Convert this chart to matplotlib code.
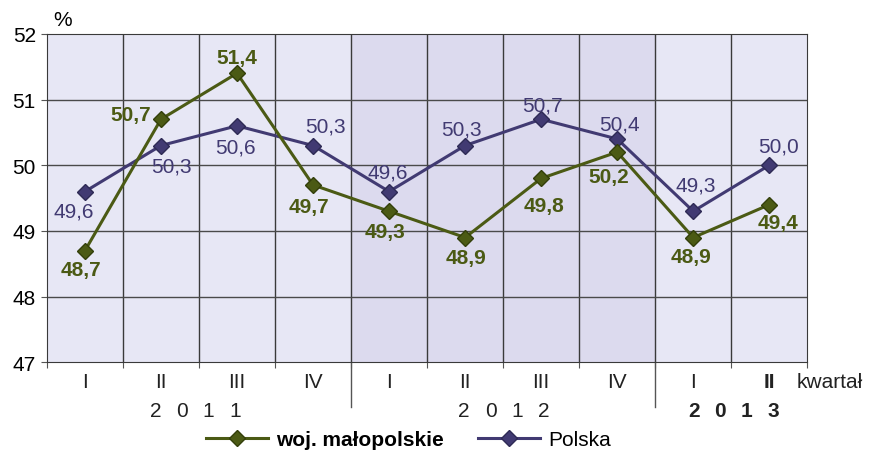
import numpy as np
import matplotlib.pyplot as plt
import matplotlib.transforms as mtransforms

plt.rcParams['font.family'] = ['Liberation Sans', 'DejaVu Sans']

# data
quarters = ["I", "II", "III", "IV", "I", "II", "III", "IV", "I", "II"]
years = ["2011", "2012", "2013"]
malopolskie = [48.7, 50.7, 51.4, 49.7, 49.3, 48.9, 49.8, 50.2, 48.9, 49.4]
polska = [49.6, 50.3, 50.6, 50.3, 49.6, 50.3, 50.7, 50.4, 49.3, 50.0]

# label offsets in pixels (dx right, dy down)
mal_off = [(-4, 19), (-30, -5), (0, -16), (-4, 22), (-4, 20), (1, 20), (3, 27), (-8, 24), (-2, 19), (9, 18)]
pol_off = [(-11, 19), (10, 20), (-2, 21), (12, -20), (-1, -20), (-4, -17), (1, -14), (2, -15), (3, -26), (9, -19)]

green = "#4b5a14"
purple = "#413a72"
fs = 15

fig = plt.figure(figsize=(8.69, 4.52), dpi=100)
ax = fig.add_axes([0.054, 0.196, 0.875, 0.727])
x = np.arange(len(quarters))

ax.axvspan(-0.5, 9.5, color="#e7e7f5", zorder=0)
ax.axvspan(3.5, 7.5, color="#dcdaee", zorder=0)

for xv in np.arange(0.5, 9.5, 1):
    ax.axvline(xv, color="#3a3a3a", lw=1, zorder=1)
for yv in [48, 49, 50, 51]:
    ax.axhline(yv, color="#4a4a4a", lw=1, zorder=1)

ax.plot(x, polska, color=purple, lw=2.2, marker="D", ms=8.5, mfc=purple, mec="#2e2a55", zorder=3, label="Polska")
ax.plot(x, malopolskie, color=green, lw=2.2, marker="D", ms=8.5, mfc=green, mec="#333f0a", zorder=4, label="woj. małopolskie")

for i, v in enumerate(malopolskie):
    dx, dy = mal_off[i]
    ax.annotate(f"{v:.1f}".replace(".", ","), (x[i], v), xytext=(dx * 0.72, -dy * 0.72), textcoords="offset points",
                ha="center", va="center", fontsize=fs, fontweight="bold", color=green, zorder=5)
for i, v in enumerate(polska):
    dx, dy = pol_off[i]
    ax.annotate(f"{v:.1f}".replace(".", ","), (x[i], v), xytext=(dx * 0.72, -dy * 0.72), textcoords="offset points",
                ha="center", va="center", fontsize=fs, color=purple, zorder=5)

ax.set_xlim(-0.5, 9.5)
ax.set_ylim(47, 52)
ax.set_yticks([47, 48, 49, 50, 51, 52])
ax.tick_params(axis="y", labelsize=fs, length=4, color="#555555", pad=4)
ax.set_xticks(np.arange(-0.5, 10, 1))
ax.set_xticklabels([])
ax.tick_params(axis="x", length=4, color="#555555")
for s in ax.spines.values():
    s.set_color("#3a3a3a")

trans = mtransforms.blended_transform_factory(ax.transData, ax.transAxes)
for i, q in enumerate(quarters):
    ax.text(i, -0.058, q, transform=trans, ha="center", va="center", fontsize=fs,
            fontweight="bold" if i == 9 else "normal", color="#222222")
ax.text(9.36, -0.058, "kwartał", transform=trans, ha="left", va="center", fontsize=fs, color="#222222")

# years written digit by digit, widely spaced
year_x = [1.45, 5.51, 8.53]
for i, yl in enumerate(years):
    for k, ch in enumerate(yl):
        ax.text(year_x[i] + (k - 1.5) * 0.35, -0.146, ch, transform=trans, ha="center", va="center", fontsize=fs,
                fontweight="bold" if i == 2 else "normal", color="#222222")
for xv in [3.5, 7.5]:
    ax.plot([xv, xv], [0, -0.137], transform=trans, color="#555555", lw=1, clip_on=False)

fig.text(0.072, 0.955, "%", fontsize=fs, ha="center", va="center")

h, l = ax.get_legend_handles_labels()
leg = fig.legend(h[::-1], l[::-1], loc="center", bbox_to_anchor=(0.47, 0.025), ncol=2, frameon=False,
                 fontsize=fs, handlelength=3.0, handletextpad=0.4, columnspacing=1.6)
leg.get_texts()[0].set_fontweight("bold")

fig.savefig("out.png", dpi=100)
